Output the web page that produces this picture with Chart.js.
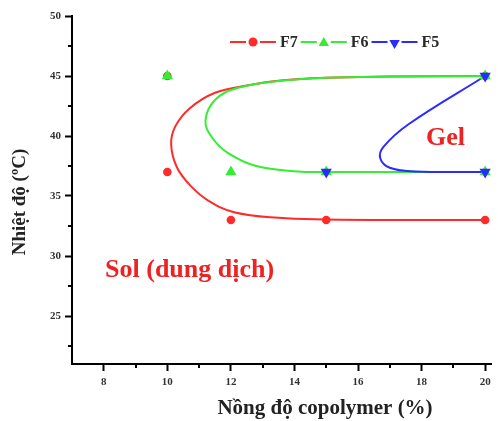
<!DOCTYPE html>
<html>
<head>
<meta charset="utf-8">
<script src="https://cdn.jsdelivr.net/npm/chart.js@4.4.1/dist/chart.umd.min.js"></script>
<style>
  html, body { margin: 0; padding: 0; background: #fff; }
</style>
</head>
<body>
<canvas id="phaseChart" width="498" height="421"></canvas>
<script>
// data (x = nong do %, y = nhiet do)
const seriesNames = ['F7', 'F6', 'F5'];
const seriesColors = ['#ff2b2b', '#33ee33', '#2b2bff'];

const f7Points = [[10, 45], [10, 37], [12, 33], [15, 33], [20, 33], [20, 45]];
const f6Points = [[10, 45], [12, 37], [15, 37], [20, 37], [20, 45]];
const f5Points = [[15, 37], [20, 37], [20, 45]];

// hand-traced boundary curves
const f7Curve = [[20, 45], [17, 44.95], [15, 44.85], [13.5, 44.6], [12.5, 44.2], [11.5, 43.6], [10.7, 42.3],
  [10.25, 40.8], [10.12, 39.3], [10.3, 37.4], [10.75, 35.8], [11.3, 34.6], [12.1, 33.65], [13.5, 33.18],
  [15, 33.05], [17.5, 33], [20, 33]];
const f6Curve = [[20, 45], [17, 44.95], [15, 44.85], [13.55, 44.6], [12.2, 44.0], [11.5, 43.0], [11.2, 41.3],
  [11.4, 39.9], [11.9, 38.6], [12.8, 37.5], [14.1, 37.05], [15, 37], [17.5, 37], [20, 37]];
const f5Curve = [[20, 45], [17.6, 41.0], [16.8, 39.1], [16.7, 38.15], [17.0, 37.35], [17.8, 37.05], [20, 37]];

const xTicks = [8, 10, 12, 14, 16, 18, 20];
const xMinorTicks = [9, 11, 13, 15, 17, 19];
const yTicks = [25, 30, 35, 40, 45, 50];
const yMinorTicks = [22.5, 27.5, 32.5, 37.5, 42.5, 47.5];

const xTitle = 'Nồng độ copolymer (%)';
const yTitle = 'Nhiệt độ (ºC)';
const regionTexts = ['Gel', 'Sol (dung dịch)'];
const regionAt = [[18.75, 39.85], [10.7, 28.8]];

const serif = '"Liberation Serif", "Times New Roman", serif';
const toXY = arr => arr.map(p => ({ x: p[0], y: p[1] }));

// marker helper, shared by legend
function drawMarker(ctx, style, x, y, r) {
  ctx.beginPath();
  if (style === 'circle') {
    ctx.arc(x, y, r, 0, Math.PI * 2);
  } else {
    const dir = style === 'triangleDown' ? -1 : 1;
    ctx.moveTo(x, y - dir * r);
    ctx.lineTo(x + r * 0.866, y + dir * r * 0.5);
    ctx.lineTo(x - r * 0.866, y + dir * r * 0.5);
    ctx.closePath();
  }
  ctx.fill();
}

const inlineLegend = {
  id: 'inlineLegend',
  afterDraw(chart) {
    const ctx = chart.ctx;
    const styles = ['circle', 'triangle', 'triangleDown'];
    let x = 230;
    const y = 42;
    ctx.save();
    ctx.font = 'bold 16px ' + serif;
    ctx.textBaseline = 'middle';
    seriesNames.forEach((name, i) => {
      ctx.strokeStyle = seriesColors[i];
      ctx.fillStyle = seriesColors[i];
      ctx.lineWidth = 2;
      ctx.beginPath();
      ctx.moveTo(x, y); ctx.lineTo(x + 16, y);
      ctx.moveTo(x + 30, y); ctx.lineTo(x + 46, y);
      ctx.stroke();
      drawMarker(ctx, styles[i], x + 23, y + (i === 0 ? 0 : 1), i === 0 ? 4.5 : 6);
      ctx.fillStyle = '#2a2a2a';
      ctx.fillText(name, x + 50, y + 1);
      x += 50 + ctx.measureText(name).width + 3;
    });
    ctx.restore();
  }
};

const extras = {
  id: 'extras',
  afterDraw(chart) {
    const ctx = chart.ctx;
    const xs = chart.scales.x, ys = chart.scales.y;
    ctx.save();
    // minor ticks
    ctx.strokeStyle = '#000';
    ctx.lineWidth = 2;
    ctx.beginPath();
    xMinorTicks.forEach(v => {
      const px = Math.round(xs.getPixelForValue(v));
      ctx.moveTo(px, ys.bottom); ctx.lineTo(px, ys.bottom + 4);
    });
    yMinorTicks.forEach(v => {
      const py = Math.round(ys.getPixelForValue(v));
      ctx.moveTo(xs.left, py); ctx.lineTo(xs.left - 4, py);
    });
    ctx.stroke();

    // axis titles (off-centre in the original)
    ctx.fillStyle = '#222';
    ctx.textAlign = 'center';
    ctx.textBaseline = 'alphabetic';
    ctx.font = 'bold 21px ' + serif;
    ctx.fillText(xTitle, 325, 414);
    ctx.save();
    ctx.translate(25, 202);
    ctx.rotate(-Math.PI / 2);
    ctx.font = 'bold 19px ' + serif;
    ctx.fillText(yTitle, 0, 0);
    ctx.restore();

    // region labels
    ctx.fillStyle = '#ee2222';
    ctx.font = 'bold 26px ' + serif;
    ctx.textBaseline = 'middle';
    regionTexts.forEach((t, i) => {
      ctx.fillText(t, xs.getPixelForValue(regionAt[i][0]), ys.getPixelForValue(regionAt[i][1]));
    });
    ctx.restore();
  }
};

const curveSet = (data, i, order) => ({
  label: seriesNames[i] + ' curve',
  data: toXY(data),
  showLine: true,
  borderColor: seriesColors[i],
  borderWidth: 2,
  pointRadius: 0,
  tension: 0.4,
  order: order
});

const pointSet = (data, i, style, rotation, radius, order) => ({
  label: seriesNames[i],
  data: toXY(data),
  showLine: false,
  borderColor: seriesColors[i],
  backgroundColor: seriesColors[i],
  pointStyle: style,
  rotation: rotation,
  pointRadius: radius,
  pointBorderWidth: 0,
  order: order
});

const ctx = document.getElementById('phaseChart').getContext('2d');
window.phaseChart = new Chart(ctx, {
  type: 'scatter',
  data: {
    datasets: [
      curveSet(f5Curve, 2, 3),
      curveSet(f6Curve, 1, 4),
      curveSet(f7Curve, 0, 5),
      pointSet(f5Points, 2, 'triangle', 180, 6.5, 0),
      pointSet(f6Points, 1, 'triangle', 0, 6.5, 1),
      pointSet(f7Points, 0, 'circle', 0, 4.3, 2)
    ]
  },
  options: {
    responsive: false,
    animation: false,
    clip: false,
    layout: { padding: { top: 16, right: 0, left: 0, bottom: 0 } },
    plugins: {
      legend: { display: false },
      tooltip: { enabled: false }
    },
    scales: {
      x: {
        type: 'linear',
        min: 7,
        max: 20.2,
        afterBuildTicks: s => { s.ticks = xTicks.map(v => ({ value: v })); },
        afterFit: s => { s.height = 57; },
        border: { color: '#000', width: 2 },
        grid: { drawOnChartArea: false, drawTicks: true, tickLength: 7, tickWidth: 2, tickColor: '#000' },
        ticks: { color: '#333', padding: 5, font: { family: serif, size: 11, weight: 'bold' } }
      },
      y: {
        type: 'linear',
        min: 21,
        max: 50,
        afterBuildTicks: s => { s.ticks = yTicks.map(v => ({ value: v })); },
        afterFit: s => { s.width = 72; },
        border: { color: '#000', width: 2 },
        grid: { drawOnChartArea: false, drawTicks: true, tickLength: 7, tickWidth: 2, tickColor: '#000' },
        ticks: { color: '#333', padding: 4, font: { family: serif, size: 11, weight: 'bold' } }
      }
    }
  },
  plugins: [inlineLegend, extras]
});
</script>
</body>
</html>
